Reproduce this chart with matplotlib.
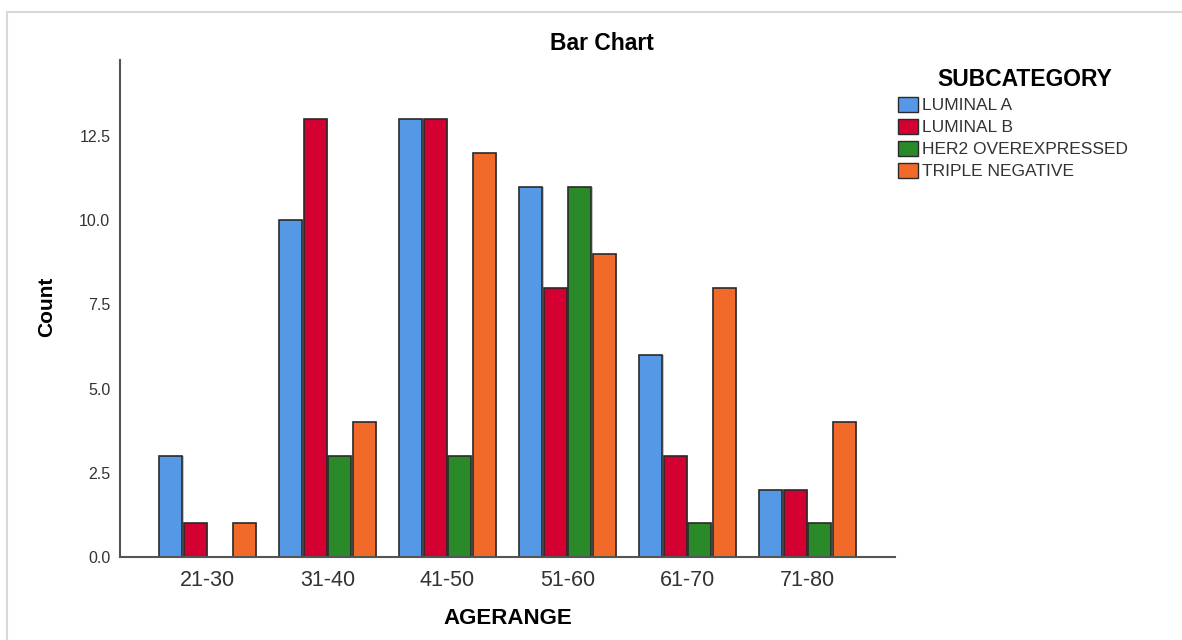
import matplotlib
matplotlib.use("Agg")
import matplotlib.pyplot as plt
import numpy as np
from matplotlib.lines import Line2D
from matplotlib.patches import Patch

plt.rcParams['font.family'] = ['Liberation Sans', 'DejaVu Sans']

categories = ["21-30", "31-40", "41-50", "51-60", "61-70", "71-80"]
series_names = ["LUMINAL A", "LUMINAL B", "HER2 OVEREXPRESSED", "TRIPLE NEGATIVE"]
luminal_a = [3, 10, 13, 11, 6, 2]
luminal_b = [1, 13, 13, 8, 3, 2]
her2 = [0, 3, 3, 11, 1, 1]
triple_neg = [1, 4, 12, 9, 8, 4]
colors = ["#5598E5", "#D50032", "#2A8A2A", "#F26A2A"]
yticks = [0.0, 2.5, 5.0, 7.5, 10.0, 12.5]

W, H = 1182, 640
fig = plt.figure(figsize=(W / 100, H / 100), dpi=100)

# outer frame (top and left edges visible)
fig.add_artist(Line2D([7 / W, 1.0], [1 - 12 / H, 1 - 12 / H], transform=fig.transFigure,
                      color="#d8d8d8", linewidth=1.5))
fig.add_artist(Line2D([7 / W, 7 / W], [0.0, 1 - 12 / H], transform=fig.transFigure,
                      color="#d8d8d8", linewidth=1.5))

ax = fig.add_axes([120 / W, (H - 557) / H, (895 - 120) / W, (557 - 60) / H])

x = np.arange(len(categories))
slot = 0.204
w = 0.19
data = [luminal_a, luminal_b, her2, triple_neg]
for i, (vals, c) in enumerate(zip(data, colors)):
    off = (i - 1.5) * slot
    ax.bar(x + off + 0.012, vals, width=w, color="#c4c4c4", edgecolor="none", zorder=1)
    ax.bar(x + off, vals, width=w, color=c, edgecolor="#2a2a2a", linewidth=1.2, zorder=2)

ax.set_xlim(-0.73, 5.73)
ax.set_ylim(0, 14.76)
ax.set_xticks(x)
ax.set_xticklabels(categories, fontsize=15.5, color="#333333")
ax.set_yticks(yticks)
ax.set_yticklabels([f"{v:.1f}" for v in yticks], fontsize=11.5, color="#333333")
ax.tick_params(length=0)
ax.tick_params(axis='y', pad=7)
ax.tick_params(axis='x', pad=9)
for s in ["top", "right"]:
    ax.spines[s].set_visible(False)
for s in ["left", "bottom"]:
    ax.spines[s].set_color("#555555")
    ax.spines[s].set_linewidth(1.5)

fig.text(602 / W, 1 - 43 / H, "Bar Chart", fontsize=16.5, fontweight="bold",
         ha="center", va="center")
fig.text(508 / W, 1 - 618 / H, "AGERANGE", fontsize=16, fontweight="bold",
         ha="center", va="center")
fig.text(47 / W, 1 - 307 / H, "Count", fontsize=15, fontweight="bold",
         ha="center", va="center", rotation=90)

fig.text(1025 / W, 1 - 79 / H, "SUBCATEGORY", fontsize=16.5, fontweight="bold",
         ha="center", va="center")
handles = [Patch(facecolor=c, edgecolor="#2a2a2a", label=n) for c, n in zip(colors, series_names)]
leg = fig.legend(handles=handles, loc="upper left", bbox_to_anchor=(898 / W, 1 - 97 / H),
                 frameon=False, fontsize=12.5, handlelength=1.15, handleheight=0.92,
                 handletextpad=0.22, labelspacing=0.33, borderpad=0.0, borderaxespad=0.0)
for t in leg.get_texts():
    t.set_color("#333333")

fig.savefig("out.png", dpi=100)
